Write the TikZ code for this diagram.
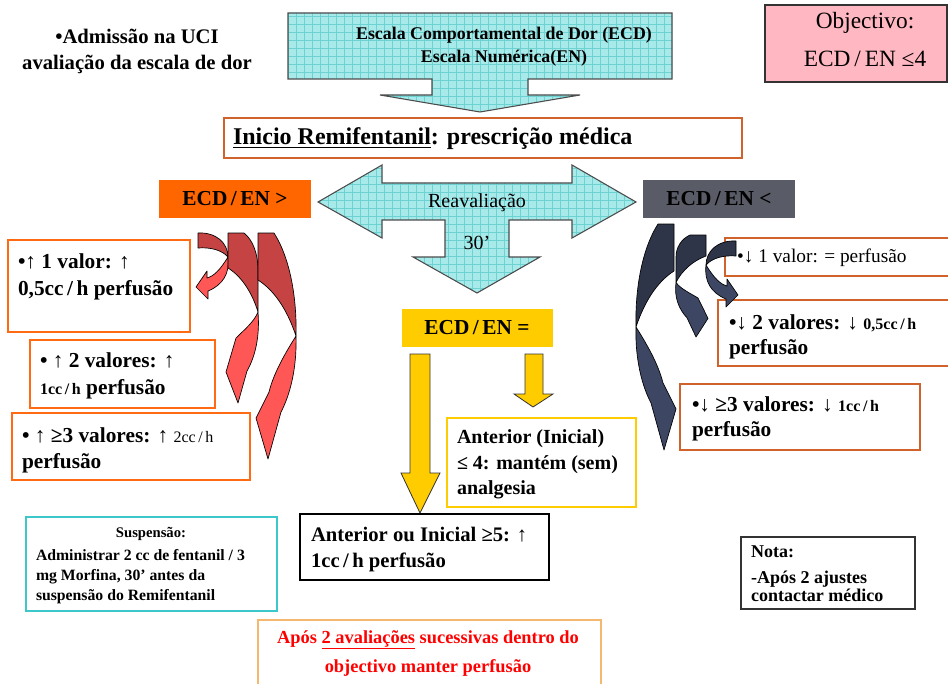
\documentclass[tikz,border=0pt]{standalone}
\usepackage{fontspec}
\setmainfont{Liberation Serif}
\definecolor{cyanfill}{HTML}{A8E9E9}
\definecolor{cyangrid}{HTML}{6CD2D2}
\definecolor{boxorange}{HTML}{FF6A13}
\definecolor{boxrust}{HTML}{D0622C}
\definecolor{hotorange}{HTML}{FF6600}
\definecolor{slate}{HTML}{595C66}
\definecolor{gold}{HTML}{FFCC00}
\definecolor{teal}{HTML}{3CC8C8}
\definecolor{peach}{HTML}{F5B870}
\definecolor{pinkfill}{HTML}{FFB7C1}
\definecolor{reddark}{HTML}{C54343}
\definecolor{redlight}{HTML}{FF5656}
\definecolor{navydark}{HTML}{2F3549}
\definecolor{navylight}{HTML}{3D4662}
\definecolor{alertred}{HTML}{FF0000}

% curved ribbon arrows: #1 back colour, #2 front colour
\newcommand\ribbonsmall[2]{%
  \filldraw[fill=#1, ribbon] (198,233) .. controls (216,232) and (228,243) .. (228,257)
     .. controls (222,250) and (210,247) .. (198,248) -- cycle;
  \filldraw[fill=#2, ribbon] (228,257) .. controls (230,273) and (223,285) .. (208,291)
     -- (208,299) -- (196,287) -- (207,271) -- (207,278)
     .. controls (214,276) and (220,270) .. (228,257) -- cycle;
}
\newcommand\ribbonmid[2]{%
  \filldraw[fill=#1, ribbon] (228,233) -- (244,233) .. controls (253,240) and (258,254) .. (258,270)
     -- (258,312) .. controls (252,292) and (241,276) .. (228,268) -- cycle;
  \filldraw[fill=#2, ribbon] (258,312) .. controls (260,337) and (255,357) .. (247,371)
     -- (238,403) -- (226,372) -- (236,338)
     .. controls (244,330) and (254,322) .. (258,312) -- cycle;
}
\newcommand\ribbonbig[2]{%
  \filldraw[fill=#1, ribbon] (258,233) -- (274,233) .. controls (290,258) and (297,298) .. (296,336)
     .. controls (286,306) and (272,289) .. (258,280) -- cycle;
  \filldraw[fill=#2, ribbon] (296,336) .. controls (297,368) and (290,395) .. (281,412)
     -- (268,459) -- (256,418) -- (269,392)
     .. controls (274,372) and (286,352) .. (296,336) -- cycle;
}
\newcommand\smallpart[1]{{\fontsize{12}{14}\selectfont #1}}
\newcommand\ecden{ECD\,/\,EN}

\begin{document}
\begin{tikzpicture}[x=0.75pt, y=-0.75pt,
  every node/.style={inner sep=0pt, outer sep=0pt},
  ribbon/.style={draw=black, line width=0.5pt, line join=round},
  blockarrow/.style={fill=cyanfill, draw=black!70, line width=0.8pt},
  gridlines/.style={draw=cyangrid, line width=0.3pt},
  yellowarrow/.style={fill=gold, draw=black!80, line width=0.6pt},
  leftbox/.style={draw=boxorange, line width=1.5pt},
  rightbox/.style={draw=boxrust, line width=1.5pt},
  txt/.style={anchor=base west, font=\bfseries\fontsize{16}{18}\selectfont},
  ctxt/.style={anchor=base, font=\bfseries\fontsize{16}{18}\selectfont},
]
\useasboundingbox[fill=white] (0,0) rectangle (948,684);

% ---------- heading text ----------
\node[ctxt, font=\bfseries\fontsize{15.5}{18}\selectfont] (adm1) at (137,44) {•Admissão na UCI};
\node[ctxt, font=\bfseries\fontsize{15.5}{18}\selectfont] (adm2) at (137,70) {avaliação da escala de dor};

% ---------- objective ----------
\filldraw[fill=pinkfill, draw=black!80, line width=0.8pt] (765,5) rectangle (947,82);
\node[anchor=base, font=\fontsize{17.5}{20}\selectfont] (obj1) at (865,29) {Objectivo:};
\node[anchor=base, font=\fontsize{17.5}{20}\selectfont] (obj2) at (865,67) {\ecden{} ≤4};

% ---------- scale arrow ----------
\def\scalepath{(288,13) -- (672,13) -- (672,79) -- (528,79) -- (528,95) -- (580,95)
  -- (480,112) -- (380,95) -- (432,95) -- (432,79) -- (288,79) -- cycle}
\fill[cyanfill] \scalepath;
\begin{scope}
  \clip \scalepath;
  \draw[gridlines, step=6pt] (280,0) grid (690,120);
\end{scope}
\draw[blockarrow, fill=none] \scalepath;
\node[anchor=base, font=\bfseries\fontsize{13.4}{15}\selectfont] (esc1) at (504,40) {Escala Comportamental de Dor (ECD)};
\node[anchor=base, font=\bfseries\fontsize{13.4}{15}\selectfont] (esc2) at (504,63) {Escala Numérica(EN)};

% ---------- start of remifentanil ----------
\draw[draw=boxrust, line width=1.8pt] (224,118) rectangle (742,158);
\node[anchor=base west, font=\bfseries\fontsize{18}{20}\selectfont] (ini) at (233,145)
  {\underline{Inicio Remifentanil}: prescrição médica};

% ---------- reassessment arrow ----------
\def\reavpath{(318,202) -- (382,165) -- (382,183) -- (572,183) -- (572,165) -- (636,202)
  -- (572,238) -- (572,220) -- (509,220) -- (509,257) -- (540,257) -- (477,293)
  -- (413,257) -- (445,257) -- (445,220) -- (382,220) -- (382,238) -- cycle}
\fill[cyanfill] \reavpath;
\begin{scope}
  \clip \reavpath;
  \draw[gridlines, step=6pt] (310,160) grid (640,300);
\end{scope}
\draw[blockarrow, fill=none] \reavpath;
\node[anchor=base, font=\fontsize{15}{17}\selectfont] (reav) at (477,208) {Reavaliação};
\node[anchor=base, font=\fontsize{15}{17}\selectfont] (min30) at (477,249) {30’};

% ---------- state labels ----------
\fill[hotorange] (159,180) rectangle (311,218);
\node[ctxt] (up) at (235,205) {\ecden{} >};
\fill[slate] (643,180) rectangle (795,218);
\node[ctxt] (down) at (719,205) {\ecden{} <};
\fill[gold] (402,309) rectangle (553,347);
\node[ctxt] (same) at (477,334) {\ecden{} =};

% ---------- increase boxes ----------
\draw[leftbox] (8,240) rectangle (190,332);
\node[txt] (l1a) at (18,268) {•↑ 1 valor: ↑};
\node[txt] (l1b) at (18,295) {0,5cc\,/\,h perfusão};
\draw[leftbox] (30,340) rectangle (215,408);
\node[txt] (l2a) at (40,367) {• ↑ 2 valores: ↑};
\node[txt] (l2b) at (40,394) {\smallpart{1cc\,/\,h} perfusão};
\draw[leftbox] (12,413) rectangle (250,480);
\node[txt] (l3a) at (22,442) {• ↑ ≥3 valores: ↑ \mdseries\smallpart{2cc\,/\,h}};
\node[txt] (l3b) at (22,468) {perfusão};

% ---------- decrease boxes ----------
\draw[rightbox] (725,238) rectangle (960,276);
\node[txt, font=\fontsize{14.5}{17}\selectfont] (r1a) at (737,262) {•↓ 1 valor: = perfusão};
\draw[rightbox] (718,300) rectangle (960,366);
\node[txt] (r2a) at (729,329) {•↓ 2 valores: ↓ \smallpart{0,5cc\,/\,h}};
\node[txt] (r2b) at (729,354) {perfusão};
\draw[rightbox] (680,384) rectangle (920,450);
\node[txt] (r3a) at (692,411) {•↓ ≥3 valores: ↓ \smallpart{1cc\,/\,h}};
\node[txt] (r3b) at (692,436) {perfusão};

% ---------- ribbon arrows ----------
\ribbonsmall{reddark}{redlight}
\ribbonmid{reddark}{redlight}
\ribbonbig{reddark}{redlight}
\begin{scope}[shift={(932,-9)}, xscale=-1]
  \ribbonbig{navydark}{navylight}
\end{scope}
\begin{scope}[shift={(934,95.2)}, xscale=-1, yscale=0.6]
  \ribbonmid{navydark}{navylight}
\end{scope}
\begin{scope}[shift={(934,8)}, xscale=-1]
  \ribbonsmall{navydark}{navylight}
\end{scope}

% ---------- stable branch ----------
\draw[yellowarrow] (410,354) -- (430,354) -- (430,473) -- (440,473) -- (420,513)
  -- (401,473) -- (410,473) -- cycle;
\draw[yellowarrow] (525,354) -- (543,354) -- (543,394) -- (553,394) -- (533,407)
  -- (514,394) -- (525,394) -- cycle;
\draw[draw=gold, line width=1.5pt] (447,418) rectangle (636,507);
\node[txt, font=\bfseries\fontsize{15}{17}\selectfont] (eq1) at (457,443) {Anterior (Inicial)};
\node[txt, font=\bfseries\fontsize{15}{17}\selectfont] (eq2) at (457,469) {≤ 4: mantém (sem)};
\node[txt, font=\bfseries\fontsize{15}{17}\selectfont] (eq3) at (457,494) {analgesia};
\draw[draw=black, line width=1.3pt] (300,514) rectangle (549,580);
\node[txt, font=\bfseries\fontsize{15.5}{17}\selectfont] (ge1) at (311,541) {Anterior ou Inicial ≥5: ↑};
\node[txt, font=\bfseries\fontsize{15.5}{17}\selectfont] (ge2) at (311,567) {1cc\,/\,h perfusão};

% ---------- suspension ----------
\draw[draw=teal, line width=1.8pt] (26,517) rectangle (277,611);
\node[anchor=base, font=\bfseries\fontsize{11}{13}\selectfont] (susp0) at (151,537) {Suspensão:};
\node[anchor=base west, font=\bfseries\fontsize{11.8}{13}\selectfont] (susp1) at (36,560) {Administrar 2 cc de fentanil / 3};
\node[anchor=base west, font=\bfseries\fontsize{11.8}{13}\selectfont] (susp2) at (36,580) {mg Morfina, 30’ antes da};
\node[anchor=base west, font=\bfseries\fontsize{11.8}{13}\selectfont] (susp3) at (36,600) {suspensão do Remifentanil};

% ---------- note ----------
\draw[draw=black!80, line width=0.8pt] (741,537) rectangle (915,609);
\node[anchor=base west, font=\bfseries\fontsize{13.5}{15}\selectfont] (nota0) at (751,557) {Nota:};
\node[anchor=base west, font=\bfseries\fontsize{13.5}{15}\selectfont] (nota1) at (751,583) {-Após 2 ajustes};
\node[anchor=base west, font=\bfseries\fontsize{13.5}{15}\selectfont] (nota2) at (751,601) {contactar médico};

% ---------- maintenance rule ----------
\draw[draw=peach, line width=0.8pt] (258,620) rectangle (601,700);
\node[anchor=base, text=alertred, font=\bfseries\fontsize{13.8}{16}\selectfont] (keep1) at (428,643)
  {Após \underline{2 avaliações} sucessivas dentro do};
\node[anchor=base, text=alertred, font=\bfseries\fontsize{13.8}{16}\selectfont] (keep2) at (428,672)
  {objectivo manter perfusão};
\end{tikzpicture}
\end{document}
